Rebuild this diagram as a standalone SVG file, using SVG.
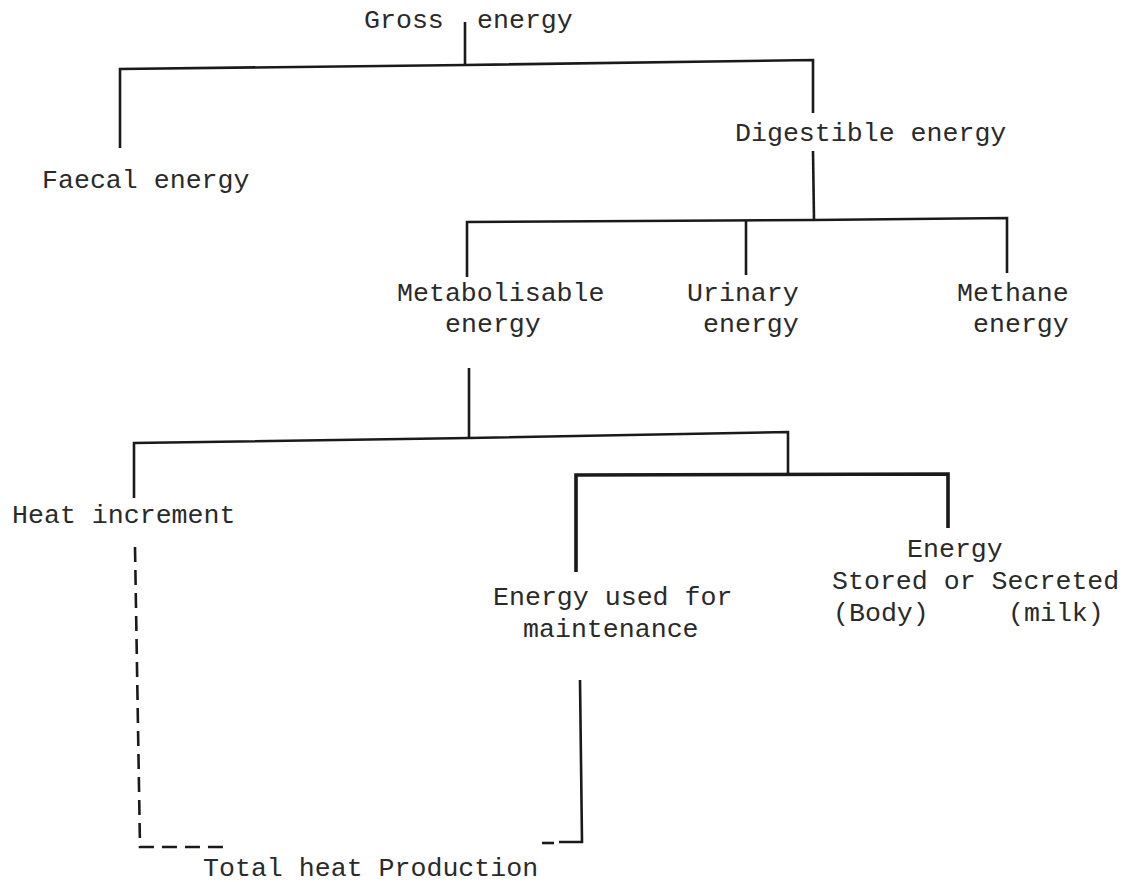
<svg xmlns="http://www.w3.org/2000/svg" width="1128" height="882" viewBox="0 0 1128 882">
<style>
text{font-family:"Liberation Mono","DejaVu Sans Mono",monospace;font-size:26.6px;fill:#2a2a2a}
.ln{fill:none;stroke:#1a1a1a;stroke-width:2.6;stroke-linejoin:miter;stroke-linecap:butt}
.bold{stroke-width:3.6}
.dash{stroke-dasharray:15 8}
</style>
<rect width="1128" height="882" fill="#ffffff"/>
<g id="connectors">
<path class="ln" d="M465,22 V65"/>
<path class="ln" d="M120,148 L120,69 L465,65 L813,60 L813,113"/>
<path class="ln" d="M813,151 L814,220"/>
<path class="ln" d="M467,277 L467,222 L814,220 L1007,218 L1007,273"/>
<path class="ln" d="M746,221 V275"/>
<path class="ln" d="M469,368 L469,438"/>
<path class="ln" d="M134,498 L134,443 L469,438 L788,432 L788,474"/>
<path class="ln bold" d="M576,572 L576,475 L948,474 L948,528"/>
<path class="ln" d="M580,680 L582,842 L559,842"/>
<path class="ln" d="M542,843 H554"/>
<path class="ln dash" d="M135,547 L140,847 L223,847"/>
</g>
<g id="gross"><text x="364" y="28">Gross</text><text x="477" y="28">energy</text></g>
<g id="faecal"><text x="42" y="188">Faecal energy</text></g>
<g id="digestible"><text x="735" y="141">Digestible energy</text></g>
<g id="metabolisable"><text x="397" y="301">Metabolisable</text><text x="445" y="332">energy</text></g>
<g id="urinary"><text x="687" y="301">Urinary</text><text x="703" y="332">energy</text></g>
<g id="methane"><text x="957" y="301">Methane</text><text x="973" y="332">energy</text></g>
<g id="heat"><text x="12" y="523">Heat increment</text></g>
<g id="maintenance"><text x="493" y="605">Energy used for</text><text x="523" y="637">maintenance</text></g>
<g id="stored"><text x="907" y="557">Energy</text><text x="832" y="589">Stored or Secreted</text><text x="833" y="621">(Body)</text><text x="1008" y="621">(milk)</text></g>
<g id="total"><text x="203" y="876">Total heat Production</text></g>
</svg>
